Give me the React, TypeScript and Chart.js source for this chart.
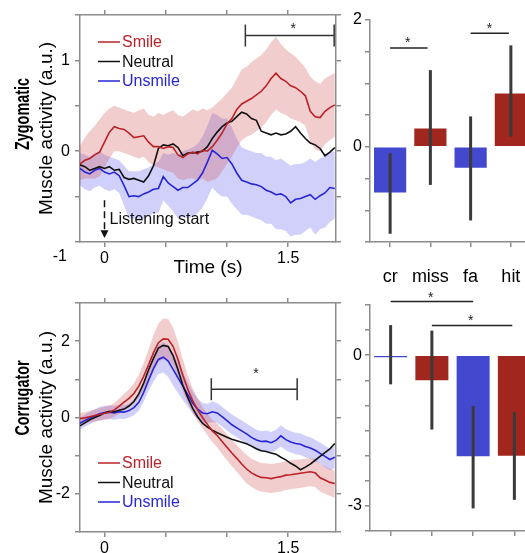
import React, { useEffect, useRef } from 'react';
import { Chart, registerables } from 'chart.js';

Chart.register(...registerables);

const FONT = '"Liberation Sans", Arial, Helvetica, sans-serif';
Chart.defaults.font.family = FONT;
Chart.defaults.color = '#000';

// ---------------- data ----------------
const TIME = [-0.2, -0.16, -0.12, -0.08, -0.04, 0, 0.04, 0.08, 0.12, 0.16, 0.2, 0.24, 0.28, 0.32, 0.36, 0.4, 0.44, 0.48, 0.52, 0.56, 0.6, 0.64, 0.68, 0.72, 0.76, 0.8, 0.84, 0.88, 0.92, 0.96, 1, 1.04, 1.08, 1.12, 1.16, 1.2, 1.24, 1.28, 1.32, 1.36, 1.4, 1.44, 1.48, 1.52, 1.56, 1.6, 1.64, 1.68, 1.72, 1.76, 1.8, 1.84, 1.88];
const TIME_TICKS = [0, 0.5, 1, 1.5];
const TIME_TICK_LABELS = ['0', '', '', '1.5'];
const SERIES_NAMES = ['Smile', 'Neutral', 'Unsmile'];

// Zygomatic
const ZYG_SMILE = [-0.14, -0.10, -0.08, -0.04, -0.01, 0.10, 0.21, 0.27, 0.25, 0.24, 0.20, 0.15, 0.16, 0.17, 0.10, 0.05, 0.05, 0.03, 0.05, 0.04, -0.04, -0.07, -0.03, -0.01, -0.03, 0.01, 0.00, 0.05, 0.12, 0.20, 0.30, 0.36, 0.46, 0.52, 0.55, 0.58, 0.62, 0.66, 0.72, 0.80, 0.86, 0.80, 0.77, 0.72, 0.70, 0.66, 0.61, 0.44, 0.38, 0.37, 0.44, 0.48, 0.51];
const ZYG_SMILE_UP = [0.06, 0.15, 0.22, 0.28, 0.35, 0.42, 0.47, 0.50, 0.48, 0.46, 0.44, 0.42, 0.45, 0.47, 0.40, 0.38, 0.42, 0.40, 0.43, 0.45, 0.40, 0.38, 0.42, 0.46, 0.44, 0.47, 0.45, 0.48, 0.53, 0.58, 0.64, 0.70, 0.80, 0.90, 0.93, 0.98, 1.02, 1.06, 1.12, 1.20, 1.26, 1.18, 1.12, 1.08, 1.04, 0.98, 0.92, 0.82, 0.77, 0.74, 0.80, 0.83, 0.86];
const ZYG_SMILE_LO = [-0.32, -0.30, -0.30, -0.30, -0.28, -0.18, -0.08, 0.00, 0.00, -0.02, -0.04, -0.06, -0.08, -0.06, -0.12, -0.16, -0.18, -0.20, -0.22, -0.24, -0.30, -0.32, -0.30, -0.30, -0.32, -0.30, -0.34, -0.32, -0.30, -0.22, -0.14, -0.06, 0.04, 0.12, 0.16, 0.18, 0.22, 0.26, 0.32, 0.40, 0.46, 0.42, 0.40, 0.36, 0.34, 0.32, 0.28, 0.10, 0.02, 0.00, 0.08, 0.12, 0.16];
const ZYG_NEUTRAL = [-0.15, -0.17, -0.21, -0.19, -0.17, -0.19, -0.17, -0.21, -0.20, -0.29, -0.31, -0.30, -0.32, -0.34, -0.27, -0.16, 0.03, 0.07, 0.06, 0.08, 0.04, -0.05, -0.02, -0.02, -0.01, 0.00, 0.05, 0.14, 0.21, 0.27, 0.31, 0.33, 0.38, 0.43, 0.41, 0.36, 0.34, 0.22, 0.20, 0.18, 0.20, 0.18, 0.19, 0.22, 0.27, 0.20, 0.14, 0.09, 0.07, 0.03, -0.05, -0.01, 0.04];
const ZYG_UNSMILE = [-0.19, -0.23, -0.25, -0.21, -0.19, -0.23, -0.25, -0.23, -0.27, -0.38, -0.50, -0.49, -0.50, -0.47, -0.45, -0.42, -0.41, -0.28, -0.35, -0.39, -0.43, -0.40, -0.40, -0.36, -0.32, -0.24, -0.12, 0.01, -0.03, -0.08, -0.07, -0.14, -0.24, -0.32, -0.34, -0.36, -0.37, -0.39, -0.43, -0.45, -0.48, -0.47, -0.50, -0.57, -0.53, -0.52, -0.50, -0.48, -0.53, -0.49, -0.46, -0.40, -0.41];
const ZYG_UNSMILE_UP = [-0.02, -0.04, -0.06, -0.02, 0.00, -0.04, -0.06, -0.08, -0.10, -0.16, -0.22, -0.22, -0.22, -0.20, -0.18, -0.14, -0.12, -0.02, -0.04, -0.02, -0.04, 0.00, 0.02, 0.04, 0.08, 0.16, 0.28, 0.42, 0.40, 0.36, 0.36, 0.26, 0.14, 0.04, 0.02, 0.00, -0.02, -0.02, -0.06, -0.06, -0.10, -0.08, -0.12, -0.16, -0.14, -0.14, -0.12, -0.08, -0.12, -0.08, -0.05, -0.01, 0.00];
const ZYG_UNSMILE_LO = [-0.38, -0.42, -0.44, -0.40, -0.38, -0.42, -0.44, -0.42, -0.46, -0.60, -0.74, -0.74, -0.76, -0.74, -0.72, -0.68, -0.68, -0.54, -0.60, -0.66, -0.74, -0.72, -0.74, -0.72, -0.68, -0.62, -0.52, -0.40, -0.46, -0.50, -0.50, -0.58, -0.64, -0.70, -0.70, -0.72, -0.74, -0.76, -0.80, -0.80, -0.86, -0.86, -0.88, -0.94, -0.92, -0.92, -0.88, -0.84, -0.92, -0.86, -0.84, -0.78, -0.74];
const ZYG_Y_TICKS = [-1, -0.5, 0, 0.5, 1, 1.5];
const ZYG_Y_LABELS = ['', '', '0', '', '1', ''];
const ZYG_SIG = [1.15, 1.875, 1.275, 1.54, 1.385]; // from, to, y, starX, starY
const LISTEN_MARK = [0, -0.54, -0.87, -0.955, -0.75]; // t, dash top, arrow top, arrow tip, text y

// Corrugator
const CORR_SMILE = [-0.03, -0.01, 0.02, 0.05, 0.08, 0.11, 0.14, 0.20, 0.30, 0.40, 0.50, 0.63, 0.82, 1.08, 1.38, 1.70, 1.96, 2.06, 2.05, 1.86, 1.52, 1.10, 0.74, 0.44, 0.20, 0.00, -0.18, -0.35, -0.47, -0.63, -0.78, -0.93, -1.07, -1.22, -1.35, -1.45, -1.52, -1.57, -1.58, -1.60, -1.57, -1.55, -1.51, -1.50, -1.48, -1.46, -1.44, -1.42, -1.45, -1.58, -1.64, -1.70, -1.73];
const CORR_SMILE_UP = [0.12, 0.14, 0.17, 0.21, 0.24, 0.28, 0.31, 0.38, 0.50, 0.62, 0.74, 0.90, 1.12, 1.42, 1.78, 2.16, 2.46, 2.60, 2.58, 2.36, 1.98, 1.52, 1.10, 0.76, 0.50, 0.28, 0.10, -0.06, -0.16, -0.30, -0.44, -0.58, -0.72, -0.86, -0.98, -1.08, -1.14, -1.20, -1.20, -1.22, -1.20, -1.18, -1.14, -1.12, -1.10, -1.10, -1.08, -1.06, -1.10, -1.22, -1.28, -1.34, -1.38];
const CORR_SMILE_LO = [-0.18, -0.16, -0.13, -0.10, -0.08, -0.06, -0.03, 0.02, 0.10, 0.18, 0.26, 0.36, 0.52, 0.74, 0.98, 1.24, 1.46, 1.52, 1.52, 1.36, 1.06, 0.68, 0.38, 0.12, -0.10, -0.28, -0.46, -0.64, -0.78, -0.96, -1.12, -1.28, -1.42, -1.58, -1.72, -1.82, -1.90, -1.94, -1.96, -1.98, -1.96, -1.94, -1.90, -1.88, -1.86, -1.84, -1.82, -1.80, -1.82, -1.94, -2.00, -2.06, -2.10];
const CORR_NEUTRAL = [-0.22, -0.14, -0.06, 0.00, 0.05, 0.12, 0.16, 0.15, 0.19, 0.22, 0.30, 0.42, 0.62, 0.90, 1.25, 1.55, 1.82, 1.89, 1.86, 1.62, 1.25, 0.84, 0.52, 0.24, 0.02, -0.15, -0.25, -0.33, -0.40, -0.46, -0.52, -0.57, -0.61, -0.65, -0.69, -0.75, -0.82, -0.87, -0.89, -0.93, -0.96, -1.04, -1.11, -1.20, -1.27, -1.37, -1.30, -1.22, -1.12, -1.02, -0.92, -0.82, -0.68];
const CORR_UNSMILE = [-0.15, -0.08, -0.01, 0.04, 0.10, 0.13, 0.14, 0.12, 0.15, 0.14, 0.18, 0.26, 0.40, 0.66, 0.98, 1.28, 1.52, 1.58, 1.48, 1.26, 1.04, 0.82, 0.60, 0.38, 0.22, 0.12, 0.10, 0.15, 0.12, 0.02, -0.08, -0.19, -0.27, -0.35, -0.43, -0.52, -0.59, -0.63, -0.62, -0.66, -0.60, -0.48, -0.58, -0.64, -0.68, -0.70, -0.76, -0.80, -0.86, -0.94, -1.02, -1.10, -1.04];
const CORR_UNSMILE_UP = [0.00, 0.07, 0.15, 0.21, 0.28, 0.31, 0.32, 0.30, 0.33, 0.32, 0.36, 0.46, 0.62, 0.90, 1.26, 1.62, 1.90, 1.98, 1.90, 1.68, 1.44, 1.18, 0.92, 0.68, 0.50, 0.38, 0.36, 0.42, 0.38, 0.28, 0.18, 0.08, 0.00, -0.08, -0.16, -0.24, -0.32, -0.36, -0.34, -0.38, -0.32, -0.20, -0.30, -0.36, -0.40, -0.42, -0.48, -0.52, -0.58, -0.66, -0.74, -0.82, -0.76];
const CORR_UNSMILE_LO = [-0.32, -0.24, -0.17, -0.12, -0.08, -0.05, -0.04, -0.06, -0.03, -0.04, 0.00, 0.06, 0.18, 0.42, 0.70, 0.94, 1.14, 1.18, 1.06, 0.84, 0.64, 0.46, 0.28, 0.10, -0.04, -0.14, -0.16, -0.12, -0.14, -0.24, -0.34, -0.44, -0.52, -0.60, -0.68, -0.78, -0.86, -0.90, -0.88, -0.92, -0.86, -0.76, -0.86, -0.92, -0.96, -0.98, -1.04, -1.08, -1.14, -1.22, -1.30, -1.38, -1.32];
const CORR_Y_TICKS = [-3, -2, -1, 0, 1, 2, 3];
const CORR_Y_LABELS = ['', '-2', '', '0', '', '2', ''];
const CORR_SIG = [0.872, 1.573, 0.74, 1.236, 1.243];

// Bars
const CATEGORIES = ['cr', 'miss', 'fa', 'hit'];
const ZYG_BAR = [-0.72, 0.29, -0.33, 0.84];
const ZYG_BAR_ERR_LO = [-1.37, -0.6, -1.16, 0.16];
const ZYG_BAR_ERR_HI = [-0.1, 1.21, 0.48, 1.6];
const ZYG_BAR_SIG = [[0, 0.93, 1.56, 0.44, 1.7], [2, 2.95, 1.79, 2.47, 1.92]];
const ZYG_BAR_Y_TICKS = [-1.5, -1, -0.5, 0, 0.5, 1, 1.5, 2];
const ZYG_BAR_Y_LABELS = ['', '', '', '0', '', '', '', '2'];
const CORR_BAR = [-0.04, -0.5, -2.01, -2.0];
const CORR_BAR_ERR_LO = [-0.58, -1.48, -3.05, -2.88];
const CORR_BAR_ERR_HI = [0.6, 0.49, -1.01, -1.13];
const CORR_BAR_SIG = [[0, 2, 1.07, 0.97, 1.22], [1, 2.95, 0.59, 1.94, 0.76]];
const CORR_BAR_Y_TICKS = [-3.5, -3, -2.5, -2, -1.5, -1, -0.5, 0, 0.5, 1];
const CORR_BAR_Y_LABELS = ['', '-3', '', '', '', '', '', '0', '', ''];

// ---------------- styles ----------------
const AXIS = '#8c8c8c';
const RED = '#bb2228';
const BLACK = '#111111';
const BLUE = '#2626d6';
const PINK = 'rgba(210,90,90,0.3)';
const LAV = 'rgba(100,100,240,0.3)';
const BAR_BLUE = '#4349cf';
const BAR_RED = '#a0261e';
const BAR_COLORS = [BAR_BLUE, BAR_RED, BAR_BLUE, BAR_RED];

const axisLook = () => ({
  grid: { drawOnChartArea: false, drawTicks: true, tickLength: 5, color: AXIS, lineWidth: 1.5 },
  border: { display: true, color: AXIS, width: 1.5 },
});

function drawStar(ctx: CanvasRenderingContext2D, x: number, y: number) {
  ctx.font = `14px ${FONT}`;
  ctx.textAlign = 'center';
  ctx.textBaseline = 'alphabetic';
  ctx.fillStyle = '#222';
  ctx.fillText('*', x, y + 8);
}

type LineSpec = {
  smile: number[]; smileUp: number[]; smileLo: number[];
  neutral: number[];
  unsmile: number[]; unsmileUp: number[]; unsmileLo: number[];
  yMin: number; yMax: number; yTicks: number[]; yLabels: string[];
  xMax: number; topH: number; bottomH: number; xTitle: boolean;
  sig: number[]; bold: string; boldDy: number; legendTop: number;
  listening: boolean; minusOne: boolean;
};

function makeLine(canvas: HTMLCanvasElement, s: LineSpec) {
  const pts = (arr: number[]) => TIME.map((t, i) => ({ x: t, y: arr[i] }));
  const band = (arr: number[], fill: any, color: string) => ({
    data: pts(arr), borderColor: 'rgba(0,0,0,0)', borderWidth: 0, pointRadius: 0,
    fill, backgroundColor: color, order: 2,
  });
  const line = (arr: number[], color: string) => ({
    data: pts(arr), borderColor: color, borderWidth: 1.6, pointRadius: 0, fill: false, order: 1,
  });
  const xTicks = (sc: any) => { sc.ticks = TIME_TICKS.map((v) => ({ value: v })); };
  const yTicks = (sc: any) => { sc.ticks = s.yTicks.map((v) => ({ value: v })); };
  const plugin = {
    id: 'lineDecor',
    afterDraw(chart: any) {
      const ctx: CanvasRenderingContext2D = chart.ctx;
      const ca = chart.chartArea;
      const xs = chart.scales.x;
      const ys = chart.scales.y;
      ctx.save();
      // legend
      const cols = [RED, BLACK, BLUE];
      SERIES_NAMES.forEach((name, i) => {
        const y = ca.top + s.legendTop + i * 19.5;
        ctx.strokeStyle = cols[i];
        ctx.lineWidth = 1.5;
        ctx.beginPath();
        ctx.moveTo(ca.left + 18, y);
        ctx.lineTo(ca.left + 40, y);
        ctx.stroke();
        ctx.font = `16px ${FONT}`;
        ctx.textAlign = 'left';
        ctx.textBaseline = 'middle';
        ctx.fillStyle = cols[i];
        ctx.fillText(name, ca.left + 42, y + 1);
      });
      // significance bracket
      const [a, b, yv, sx, sy] = s.sig;
      const x1 = xs.getPixelForValue(a);
      const x2 = xs.getPixelForValue(b);
      const yy = ys.getPixelForValue(yv);
      ctx.strokeStyle = '#333';
      ctx.lineWidth = 1.5;
      ctx.beginPath();
      ctx.moveTo(x1, yy - 11); ctx.lineTo(x1, yy + 11);
      ctx.moveTo(x1, yy); ctx.lineTo(x2, yy);
      ctx.moveTo(x2, yy - 11); ctx.lineTo(x2, yy + 11);
      ctx.stroke();
      drawStar(ctx, xs.getPixelForValue(sx), ys.getPixelForValue(sy));
      // listening start
      if (s.listening) {
        const [t0, dTop, aTop, aTip, txtY] = LISTEN_MARK;
        const x0 = xs.getPixelForValue(t0);
        ctx.strokeStyle = '#111';
        ctx.lineWidth = 1.5;
        ctx.setLineDash([7, 4]);
        ctx.beginPath();
        ctx.moveTo(x0, ys.getPixelForValue(dTop));
        ctx.lineTo(x0, ys.getPixelForValue(aTop));
        ctx.stroke();
        ctx.setLineDash([]);
        ctx.fillStyle = '#111';
        ctx.beginPath();
        ctx.moveTo(x0 - 4, ys.getPixelForValue(aTop));
        ctx.lineTo(x0 + 4, ys.getPixelForValue(aTop));
        ctx.lineTo(x0, ys.getPixelForValue(aTip));
        ctx.closePath();
        ctx.fill();
        ctx.font = `16px ${FONT}`;
        ctx.textAlign = 'left';
        ctx.textBaseline = 'middle';
        ctx.fillText('Listening start', x0 + 5, ys.getPixelForValue(txtY));
      }
      if (s.minusOne) {
        ctx.font = `16px ${FONT}`;
        ctx.textAlign = 'right';
        ctx.textBaseline = 'middle';
        ctx.fillStyle = '#000';
        ctx.fillText('-1', ca.left - 13, ys.getPixelForValue(-1) + 15);
      }
      // bold panel label
      ctx.save();
      ctx.translate(23, (ca.top + ca.bottom) / 2 + s.boldDy);
      ctx.rotate(-Math.PI / 2);
      ctx.scale(0.72, 1);
      ctx.font = `bold 20px ${FONT}`;
      ctx.textAlign = 'center';
      ctx.textBaseline = 'middle';
      ctx.fillStyle = '#000';
      ctx.fillText(s.bold, 0, 0);
      ctx.restore();
      ctx.restore();
    },
  };
  return new Chart(canvas, {
    type: 'line',
    data: {
      datasets: [
        band(s.smileUp, false, PINK), band(s.smileLo, '-1', PINK),
        band(s.unsmileUp, false, LAV), band(s.unsmileLo, '-1', LAV),
        line(s.smile, RED), line(s.neutral, BLACK), line(s.unsmile, BLUE),
      ] as any,
    },
    options: {
      animation: false,
      responsive: false,
      devicePixelRatio: 1,
      events: [],
      layout: { padding: 0, autoPadding: false } as any,
      plugins: { legend: { display: false }, tooltip: { enabled: false } },
      scales: {
        x: {
          type: 'linear', position: 'bottom', min: -0.2, max: s.xMax,
          afterBuildTicks: xTicks,
          ticks: { callback: (_v: any, i: number) => TIME_TICK_LABELS[i], font: { size: 16 }, padding: 2, maxRotation: 0, autoSkip: false },
          title: { display: s.xTitle, text: 'Time (s)', font: { size: 19 }, padding: { top: 0, bottom: 1 } },
          afterFit: (sc: any) => { sc.height = s.bottomH; },
          ...axisLook(),
        },
        xTop: {
          type: 'linear', position: 'top', min: -0.2, max: s.xMax,
          afterBuildTicks: xTicks,
          ticks: { callback: () => '', autoSkip: false },
          afterFit: (sc: any) => { sc.height = s.topH; },
          ...axisLook(),
        },
        y: {
          type: 'linear', position: 'left', min: s.yMin, max: s.yMax,
          afterBuildTicks: yTicks,
          ticks: { callback: (_v: any, i: number) => s.yLabels[i], font: { size: 16 }, padding: 5, autoSkip: false },
          title: { display: true, text: 'Muscle activity (a.u.)', font: { size: 19 }, padding: { top: 35, bottom: 0 } },
          afterFit: (sc: any) => { sc.width = 80; },
          ...axisLook(),
        },
        yRight: {
          type: 'linear', position: 'right', min: s.yMin, max: s.yMax,
          afterBuildTicks: yTicks,
          ticks: { callback: () => '', autoSkip: false },
          afterFit: (sc: any) => { sc.width = 9; },
          ...axisLook(),
        },
      } as any,
    },
    plugins: [plugin],
  });
}

type BarSpec = {
  values: number[]; lo: number[]; hi: number[]; sigs: number[][];
  yMin: number; yMax: number; yTicks: number[]; yLabels: string[];
  xH: number; showCats: boolean;
};

function makeBar(canvas: HTMLCanvasElement, s: BarSpec) {
  const plugin = {
    id: 'barDecor',
    afterDatasetsDraw(chart: any) {
      const ctx: CanvasRenderingContext2D = chart.ctx;
      const xs = chart.scales.x;
      const ys = chart.scales.y;
      ctx.save();
      ctx.strokeStyle = '#3a3a3a';
      ctx.lineWidth = 3;
      s.lo.forEach((l, i) => {
        const x = xs.getPixelForValue(i);
        ctx.beginPath();
        ctx.moveTo(x, ys.getPixelForValue(l));
        ctx.lineTo(x, ys.getPixelForValue(s.hi[i]));
        ctx.stroke();
      });
      ctx.restore();
    },
    afterDraw(chart: any) {
      const ctx: CanvasRenderingContext2D = chart.ctx;
      const xs = chart.scales.x;
      const ys = chart.scales.y;
      ctx.save();
      s.sigs.forEach(([a, b, yv, sx, sy]) => {
        const yy = ys.getPixelForValue(yv);
        ctx.strokeStyle = '#222';
        ctx.lineWidth = 1.5;
        ctx.beginPath();
        ctx.moveTo(xs.getPixelForValue(a), yy);
        ctx.lineTo(xs.getPixelForValue(b), yy);
        ctx.stroke();
        drawStar(ctx, xs.getPixelForValue(sx), ys.getPixelForValue(sy));
      });
      ctx.restore();
    },
  };
  return new Chart(canvas, {
    type: 'bar',
    data: {
      labels: CATEGORIES,
      datasets: [{ data: s.values, backgroundColor: BAR_COLORS, borderWidth: 0, barPercentage: 0.8, categoryPercentage: 1 }],
    },
    options: {
      animation: false,
      responsive: false,
      devicePixelRatio: 1,
      events: [],
      layout: { padding: { top: 20, right: 5, left: 0, bottom: 0 }, autoPadding: false } as any,
      plugins: { legend: { display: false }, tooltip: { enabled: false } },
      scales: {
        x: {
          type: 'category', offset: true,
          ticks: { display: true, callback: (_v: any, i: number) => (s.showCats ? CATEGORIES[i] : ''), font: { size: 18 }, padding: 19, maxRotation: 0, autoSkip: false },
          afterFit: (sc: any) => { sc.height = s.xH; },
          grid: { offset: false, drawOnChartArea: false, drawTicks: true, tickLength: 5, color: AXIS, lineWidth: 1.5 },
          border: { display: true, color: AXIS, width: 1.5 },
        },
        y: {
          type: 'linear', min: s.yMin, max: s.yMax,
          afterBuildTicks: (sc: any) => { sc.ticks = s.yTicks.map((v) => ({ value: v })); },
          ticks: { callback: (_v: any, i: number) => s.yLabels[i], font: { size: 16 }, padding: 3, autoSkip: false },
          afterFit: (sc: any) => { sc.width = 30; },
          ...axisLook(),
        },
      } as any,
    },
    plugins: [plugin],
  });
}

function Panel(props: { left: number; top: number; width: number; height: number; make: (c: HTMLCanvasElement) => Chart }) {
  const ref = useRef<HTMLCanvasElement>(null);
  useEffect(() => {
    const chart = props.make(ref.current as HTMLCanvasElement);
    return () => chart.destroy();
  }, []);
  return (
    <canvas
      ref={ref}
      width={props.width}
      height={props.height}
      style={{ position: 'absolute', left: props.left, top: props.top, width: props.width, height: props.height }}
    />
  );
}

export default function App() {
  return (
    <div style={{ position: 'absolute', left: 0, top: 0, width: 525, height: 553, overflow: 'hidden', background: '#fff' }}>
      <Panel left={0} top={0} width={345} height={280} make={(c) => makeLine(c, {
        smile: ZYG_SMILE, smileUp: ZYG_SMILE_UP, smileLo: ZYG_SMILE_LO,
        neutral: ZYG_NEUTRAL,
        unsmile: ZYG_UNSMILE, unsmileUp: ZYG_UNSMILE_UP, unsmileLo: ZYG_UNSMILE_LO,
        yMin: -1, yMax: 1.5, yTicks: ZYG_Y_TICKS, yLabels: ZYG_Y_LABELS,
        xMax: 1.89, topH: 15, bottomH: 38, xTitle: true,
        sig: ZYG_SIG, bold: 'Zygomatic', boldDy: -14.5, legendTop: 27,
        listening: true, minusOne: true,
      })} />
      <Panel left={0} top={285} width={345} height={268} make={(c) => makeLine(c, {
        smile: CORR_SMILE, smileUp: CORR_SMILE_UP, smileLo: CORR_SMILE_LO,
        neutral: CORR_NEUTRAL,
        unsmile: CORR_UNSMILE, unsmileUp: CORR_UNSMILE_UP, unsmileLo: CORR_UNSMILE_LO,
        yMin: -3, yMax: 3, yTicks: CORR_Y_TICKS, yLabels: CORR_Y_LABELS,
        xMax: 1.89, topH: 18, bottomH: 21, xTitle: false,
        sig: CORR_SIG, bold: 'Corrugator', boldDy: -19.5, legendTop: 160,
        listening: false, minusOne: false,
      })} />
      <Panel left={340} top={0} width={200} height={300} make={(c) => makeBar(c, {
        values: ZYG_BAR, lo: ZYG_BAR_ERR_LO, hi: ZYG_BAR_ERR_HI, sigs: ZYG_BAR_SIG,
        yMin: -1.5, yMax: 2, yTicks: ZYG_BAR_Y_TICKS, yLabels: ZYG_BAR_Y_LABELS,
        xH: 58, showCats: true,
      })} />
      <Panel left={340} top={285} width={200} height={268} make={(c) => makeBar(c, {
        values: CORR_BAR, lo: CORR_BAR_ERR_LO, hi: CORR_BAR_ERR_HI, sigs: CORR_BAR_SIG,
        yMin: -3.5, yMax: 1, yTicks: CORR_BAR_Y_TICKS, yLabels: CORR_BAR_Y_LABELS,
        xH: 22, showCats: false,
      })} />
    </div>
  );
}
